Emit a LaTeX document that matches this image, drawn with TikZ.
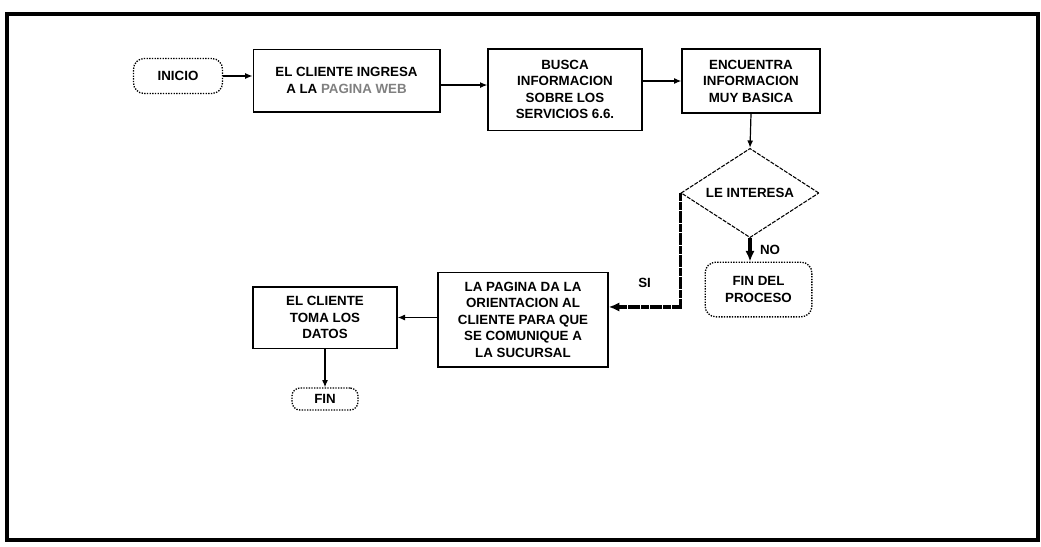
\documentclass[tikz,border=0pt]{standalone}
\usepackage{fontspec}
\setmainfont{Liberation Sans}
\usetikzlibrary{arrows.meta,shapes.geometric}

\begin{document}
\begin{tikzpicture}[
			x = 0.75pt, y = -0.75pt,
			every node/.style={font=\fontsize{10}{12.4}\selectfont\bfseries, align=center},
			ProcBox/.style={draw, line width=1pt, inner sep=2pt},
			EndBox/.style={draw, line width=1pt, densely dotted, rounded corners=8pt, inner sep=2pt},
			DecBox/.style={draw, diamond, line width=0.8pt, dash pattern=on 3pt off 1pt,
				inner sep=0pt, aspect=1.5},
			ThickArrow/.style={line width=2.4pt, -{Latex[length=8pt, width=7pt]}},
			]
			\useasboundingbox (0,0) rectangle (1041,546);
			\draw [line width=3pt] (7,14) rectangle (1038,540);
			% nodes
			\node [EndBox, minimum width=66.75pt, minimum height=26.25pt] (inicio) at (178,76) {INICIO};
			\node [ProcBox, minimum width=140pt, minimum height=47pt] (ingresa) at (346.5,80.5)
				{EL CLIENTE INGRESA\\A LA \textcolor{gray}{PAGINA WEB}};
			\node [ProcBox, minimum width=115.5pt, minimum height=61pt] (busca) at (565,89.5)
				{BUSCA\\INFORMACION\\SOBRE LOS\\SERVICIOS 6.6.};
			\node [ProcBox, minimum width=103.5pt, minimum height=48pt] (encuentra) at (751,81)
				{ENCUENTRA\\INFORMACION\\MUY BASICA};
			\node [DecBox, minimum width=103.5pt, minimum height=67pt] (interesa) at (750,193) {LE INTERESA};
			\node [EndBox, minimum width=80pt, minimum height=41pt] (finproc) at (758.5,289.5) {FIN DEL\\PROCESO};
			\node [ProcBox, minimum width=127.5pt, minimum height=71pt] (pagina) at (523,319.5)
				{LA PAGINA DA LA\\ORIENTACION AL\\CLIENTE PARA QUE\\SE COMUNIQUE A\\LA SUCURSAL};
			\node [ProcBox, minimum width=108pt, minimum height=46pt] (toma) at (325,317.5)
				{EL CLIENTE\\TOMA LOS\\DATOS};
			\node [EndBox, minimum width=49.5pt, minimum height=16.5pt, rounded corners=6pt] (fin) at (325,399) {FIN};
			\coordinate (si) at ([yshift=9.4pt]pagina.east);
			% connectors
			\begin{scope}[-{Latex[length=5.5pt, width=4.5pt]}, line width=0.9pt]
				\draw (inicio.east) -- (inicio.east -| ingresa.west);
				\draw ([yshift=-3.4pt]ingresa.east) -- ([yshift=-3.4pt]ingresa.east -| busca.west);
				\draw (busca.east |- encuentra.west) -- (encuentra.west);
				\draw (encuentra.south) -- (interesa.north);
				\draw (pagina.west |- toma.east) -- (toma.east);
				\draw (toma.south) -- (fin.north);
			\end{scope}
			\draw [ThickArrow] (interesa.south) -- (interesa.south |- finproc.north)
				node [midway, right=3pt] {NO};
			\draw [ThickArrow, dash pattern=on 3pt off 0.3pt] (interesa.west) -- (interesa.west |- si)
				-- node [above=10pt] {SI} (si);
		\end{tikzpicture}
\end{document}
